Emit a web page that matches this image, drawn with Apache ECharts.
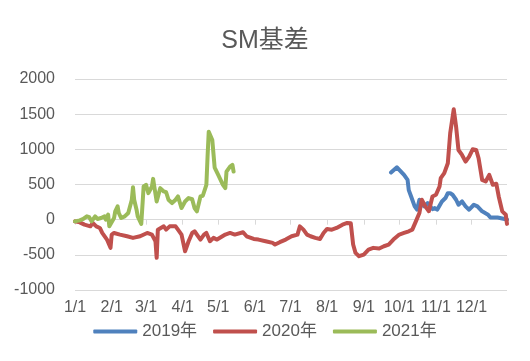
<!DOCTYPE html>
<html>
<head>
<meta charset="utf-8">
<script src="https://cdn.jsdelivr.net/npm/echarts@6/dist/echarts.min.js"></script>
<style>html,body{margin:0;padding:0;background:#fff;}#c{width:530px;height:361px;}</style>
</head>
<body>
<div id="c"></div>
<script>
const titleText = 'SM基差';
const seriesNames = ['2019年', '2020年', '2021年'];
const yTicks = [-1000, -500, 0, 500, 1000, 1500, 2000];
const monthDays = [31, 29, 31, 30, 31, 30, 31, 31, 30, 31, 30, 31];

const dates2019 = ['9/24','9/29','10/5','10/8','10/9','10/11','10/14','10/16','10/18','10/19','10/22','10/25','10/29','10/31','11/2','11/6','11/9','11/11','11/13','11/15','11/18','11/20','11/23','11/26','11/29','12/3','12/6','12/10','12/15','12/17','12/23','12/29','12/31'];
const values2019 = [670,745,637,566,420,330,189,142,283,240,189,236,150,165,142,259,307,377,377,354,283,212,259,189,142,212,189,118,71,30,30,10,0];

const dates2020 = ['1/1','1/5','1/9','1/14','1/16','1/19','1/22','1/24','1/28','1/31','2/1','2/3','2/8','2/14','2/19','2/25','3/2','3/6','3/9','3/10','3/11','3/16','3/18','3/21','3/26','3/28','3/31','4/3','4/6','4/9','4/11','4/16','4/19','4/21','4/24','4/27','4/30','5/7','5/11','5/15','5/22','5/25','5/31','6/4','6/10','6/16','6/18','6/22','6/27','7/2','7/7','7/9','7/12','7/15','7/18','7/22','7/26','7/29','8/1','8/5','8/9','8/14','8/18','8/21','8/23','8/25','8/28','9/1','9/5','9/9','9/14','9/18','9/22','9/26','10/1','10/5','10/9','10/12','10/15','10/18','10/20','10/23','10/26','10/29','11/1','11/4','11/5','11/8','11/11','11/13','11/16','11/18','11/20','11/23','11/26','11/29','12/2','12/5','12/7','12/10','12/13','12/16','12/19','12/22','12/24','12/27','12/30','12/31'];
const values2020 = [-24,-38,-71,-95,-47,-95,-118,-189,-283,-400,-212,-189,-212,-236,-259,-236,-189,-212,-307,-543,-142,-95,-142,-95,-95,-142,-212,-449,-307,-189,-165,-283,-212,-189,-307,-259,-283,-212,-189,-212,-179,-236,-274,-283,-307,-330,-354,-320,-283,-236,-212,-95,-142,-212,-236,-259,-274,-189,-132,-142,-118,-71,-47,-50,-354,-472,-519,-496,-425,-401,-410,-378,-354,-283,-212,-189,-165,-142,-24,95,283,189,120,330,354,472,590,661,802,1227,1570,1321,991,920,826,897,1000,991,873,566,543,637,496,510,330,118,71,-60];

const dates2021 = ['1/1','1/5','1/8','1/11','1/13','1/15','1/18','1/20','1/23','1/26','1/27','1/29','1/30','2/3','2/4','2/6','2/7','2/9','2/12','2/15','2/16','2/18','2/19','2/20','2/22','2/23','2/26','2/28','3/1','3/3','3/4','3/6','3/7','3/8','3/10','3/13','3/16','3/18','3/20','3/23','3/26','3/28','3/31','4/3','4/6','4/9','4/11','4/13','4/16','4/18','4/21','4/22','4/23','4/26','4/28','5/1','5/5','5/7','5/8','5/11','5/13','5/14'];
const values2021 = [-24,-10,10,47,35,-24,47,10,24,47,0,71,-95,24,118,189,95,24,47,95,118,283,460,283,142,47,-60,472,496,377,401,472,580,472,259,448,401,390,283,236,283,330,165,259,307,290,165,118,330,340,496,897,1251,1133,740,637,496,448,684,755,779,684];

const colors = ['#4F81BD', '#C0504D', '#9BBB59'];

const categories = [];
monthDays.forEach((n, m) => { for (let d = 1; d <= n; d++) categories.push((m + 1) + '/' + d); });
const isMonthStart = (idx, val) => String(val).split('/')[1] === '1';

function pairs(ds, vs) { return ds.map((d, i) => [d, vs[i]]); }
const allData = [pairs(dates2019, values2019), pairs(dates2020, values2020), pairs(dates2021, values2021)];

const font = "'Liberation Sans','Noto Sans CJK SC',sans-serif";
const chart = echarts.init(document.getElementById('c'), null, {renderer: 'canvas'});
chart.setOption({
  animation: false,
  title: {text: titleText, left: 'center', top: 24, textStyle: {fontFamily: font, fontSize: 25, fontWeight: 'normal', color: '#595959'}},
  legend: {
    data: seriesNames, bottom: 16, left: 'center', itemWidth: 44, itemHeight: 4, itemGap: 16,
    icon: 'roundRect',
    textStyle: {fontFamily: font, fontSize: 17, color: '#595959'}
  },
  grid: {left: 75, right: 23, top: 79, bottom: 71, containLabel: false},
  xAxis: {
    type: 'category', data: categories, boundaryGap: false,
    axisLine: {onZero: true, lineStyle: {color: '#d9d9d9', width: 1}},
    axisTick: {show: true, interval: isMonthStart, length: 5, lineStyle: {color: '#d9d9d9'}},
    axisLabel: {interval: isMonthStart, fontFamily: font, fontSize: 16, color: '#595959', margin: 10},
    splitLine: {show: false}
  },
  yAxis: {
    type: 'value', min: yTicks[0], max: yTicks[yTicks.length - 1], interval: 500,
    axisLine: {show: false}, axisTick: {show: false},
    axisLabel: {fontFamily: font, fontSize: 16, color: '#595959', margin: 20, formatter: v => String(v)},
    splitLine: {lineStyle: {color: '#d9d9d9', width: 1}}
  },
  series: seriesNames.map((n, i) => ({
    name: n, type: 'line', data: allData[i], showSymbol: false, symbol: 'none',
    color: colors[i],
    lineStyle: {width: 4, color: colors[i], cap: 'round', join: 'round'},
    z: 2 + i
  }))
});
</script>
</body>
</html>
